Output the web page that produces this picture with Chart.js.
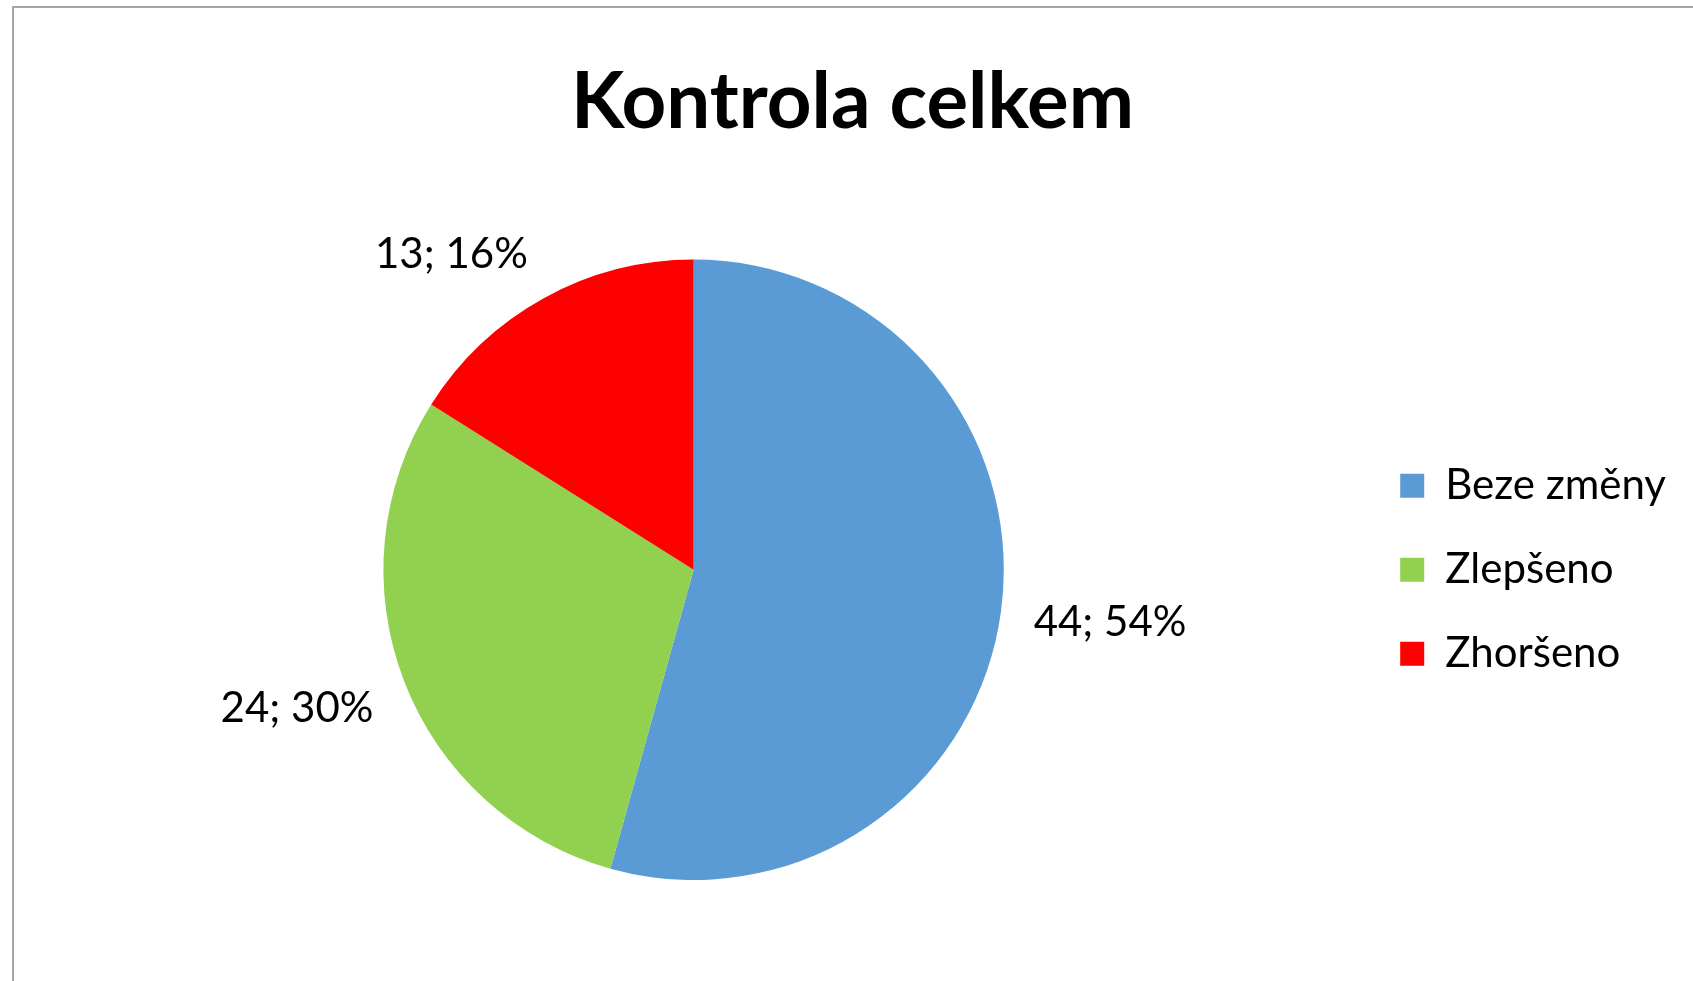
<!DOCTYPE html>
<html>
<head>
<meta charset="utf-8">
<title>Kontrola celkem</title>
<script src="https://cdn.jsdelivr.net/npm/chart.js@4.4.1/dist/chart.umd.min.js"></script>
<style>
  html, body { margin: 0; padding: 0; background: #fff; overflow: hidden; }
  #frame {
    position: absolute; left: 12px; top: 6px;
    width: 1700px; height: 1000px;
    border: 2px solid #a6a6a6; box-sizing: border-box; background: #fff;
  }
</style>
</head>
<body>
<div id="frame"><canvas id="chart" width="1696" height="996"></canvas></div>
<script>
const categories = ['Beze změny', 'Zlepšeno', 'Zhoršeno'];
const counts = [44, 24, 13];
const colors = ['#5B9BD5', '#92D050', '#FF0000'];

const total = counts.reduce((a, b) => a + b, 0);

// "počet; procento" labels placed just outside each slice
const outsideLabels = {
  id: 'outsideLabels',
  afterDatasetsDraw(chart) {
    const ctx = chart.ctx;
    const meta = chart.getDatasetMeta(0);
    ctx.save();
    ctx.font = '42px Lato';
    ctx.fillStyle = '#000';
    ctx.textAlign = 'center';
    ctx.textBaseline = 'middle';
    const clamp = v => Math.max(-1, Math.min(1, v * 3));
    meta.data.forEach((arc, i) => {
      const {x, y, startAngle, endAngle, outerRadius} =
        arc.getProps(['x', 'y', 'startAngle', 'endAngle', 'outerRadius'], true);
      const mid = (startAngle + endAngle) / 2;
      const dx = Math.cos(mid), dy = Math.sin(mid);
      const text = counts[i] + '; ' + Math.round(counts[i] / total * 100) + '%';
      const w = ctx.measureText(text).width;
      const h = 30;
      const r = outerRadius + 33;
      ctx.fillText(text, x + dx * r + clamp(dx) * w / 2, y + dy * r + clamp(dy) * h / 2);
    });
    ctx.restore();
  }
};

new Chart(document.getElementById('chart'), {
  type: 'pie',
  data: {
    labels: categories,
    datasets: [{
      data: counts,
      backgroundColor: colors,
      borderWidth: 0
    }]
  },
  options: {
    responsive: false,
    animation: false,
    layout: {
      padding: { left: 15, right: 34, top: 0, bottom: 124 }
    },
    plugins: {
      title: {
        display: true,
        text: 'Kontrola celkem',
        color: '#000',
        font: { family: 'Lato', size: 78, weight: 'bold', lineHeight: 1.2 },
        padding: { top: 48, bottom: 110 }
      },
      legend: {
        position: 'right',
        fullSize: false,
        labels: {
          boxWidth: 24,
          boxHeight: 24,
          padding: 42,
          color: '#000',
          font: { family: 'Lato', size: 42 }
        }
      },
      tooltip: { enabled: false }
    }
  },
  plugins: [outsideLabels]
});
</script>
</body>
</html>
